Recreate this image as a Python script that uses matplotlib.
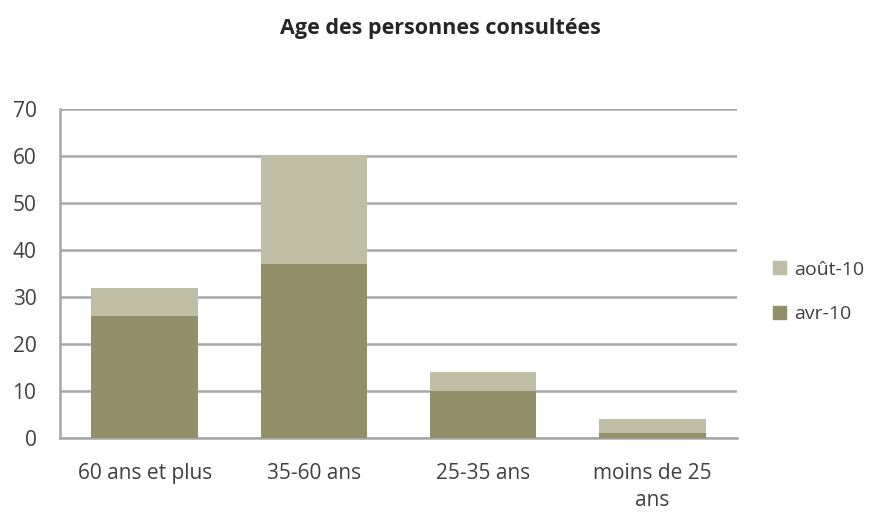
import matplotlib.pyplot as plt
from matplotlib.patches import Patch

categories = ["60 ans et plus", "35-60 ans", "25-35 ans", "moins de 25\nans"]
avr_10 = [26, 37, 10, 1]
aout_10 = [6, 23, 4, 3]

col_avr = "#938f69"
col_aout = "#c0bea5"
grid_col = "#a6a6a6"
text_col = "#404040"

plt.rcParams["font.family"] = ["Open Sans", "DejaVu Sans"]

fig = plt.figure(figsize=(8.79, 5.12), dpi=100)
ax = fig.add_axes([0.0683, 0.1445, 0.7702, 0.6425])

x = range(len(categories))
ax.bar(x, avr_10, width=0.63, color=col_avr, zorder=3)
ax.bar(x, aout_10, width=0.63, bottom=avr_10, color=col_aout, zorder=3)

ax.set_xlim(-0.5, 3.5)
ax.set_ylim(0, 70)
ax.set_yticks(range(0, 71, 10))
ax.yaxis.grid(True, color=grid_col, linewidth=1.8, zorder=0)
ax.set_xticks(list(x))
ax.set_xticklabels(categories, fontsize=15, color=text_col, linespacing=1.4)
ax.tick_params(axis="y", labelsize=15, labelcolor=text_col, length=0, pad=17)
ax.tick_params(axis="x", length=0, pad=18)

for side in ["top", "right"]:
    ax.spines[side].set_visible(False)
ax.spines["left"].set_color(grid_col)
ax.spines["left"].set_linewidth(1.8)
ax.spines["bottom"].set_color(grid_col)
ax.spines["bottom"].set_linewidth(1.8)

fig.text(0.5015, 0.945, "Age des personnes consultées", ha="center", va="center",
         fontsize=15.5, fontweight="bold", color="#262626")

handles = [Patch(color=col_aout, label="août-10"), Patch(color=col_avr, label="avr-10")]
fig.legend(handles=handles, loc="center left", bbox_to_anchor=(0.86, 0.43),
           frameon=False, fontsize=14, labelcolor=text_col, handlelength=0.65,
           handleheight=0.65, handletextpad=0.4, labelspacing=1.35)

fig.savefig("out.png", dpi=100)
